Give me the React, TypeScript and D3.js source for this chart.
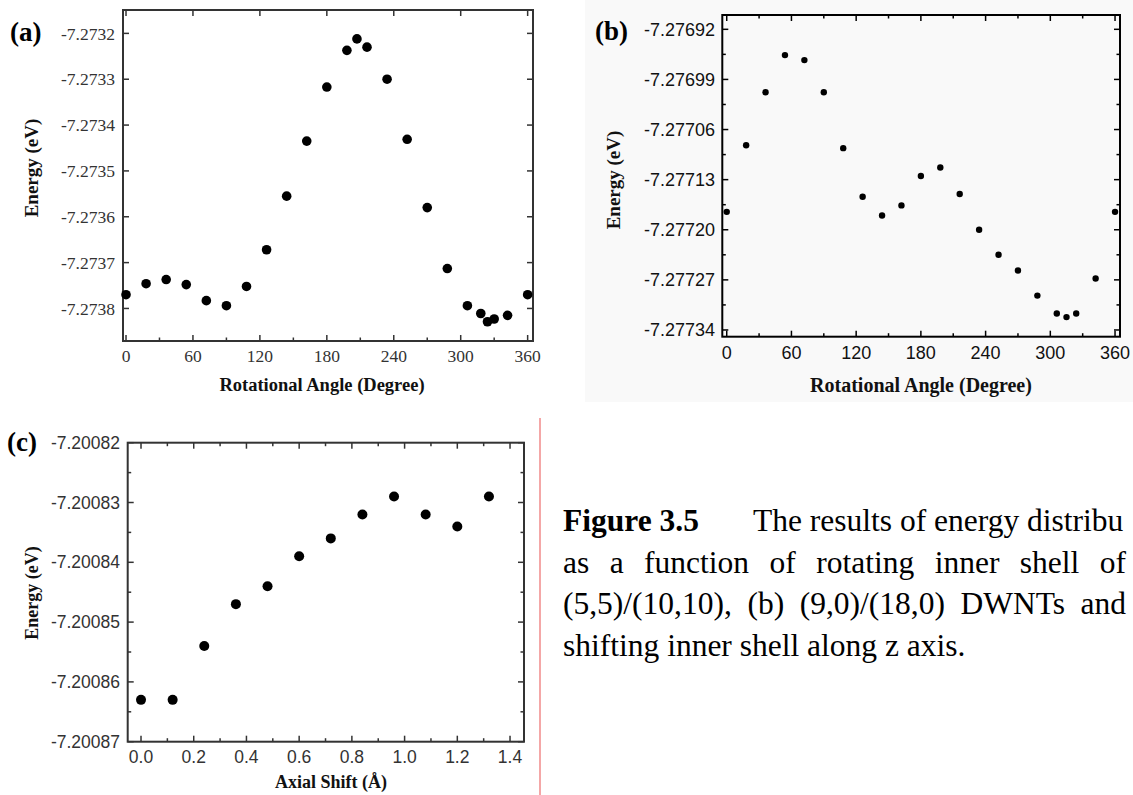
import React, { useEffect, useRef } from "react";
import * as d3 from "d3";

// (a) (5,5)/(10,10) DWNT: total energy vs rotation angle of the inner shell
const angleA = [0, 18, 36, 54, 72, 90, 108, 126, 144, 162, 180, 198, 207, 216, 234, 252, 270, 288, 306, 318, 324, 330, 342, 360];
const energyA = [
  -7.27377, -7.273746, -7.273737, -7.273748, -7.273783, -7.273794, -7.273752, -7.273672,
  -7.273555, -7.273435, -7.273317, -7.273237, -7.273212, -7.27323, -7.2733, -7.273431,
  -7.27358, -7.273713, -7.273794, -7.273811, -7.273829, -7.273823, -7.273815, -7.27377,
];

// (b) (9,0)/(18,0) DWNT: total energy vs rotation angle of the inner shell
const angleB = [0, 18, 36, 54, 72, 90, 108, 126, 144, 162, 180, 198, 216, 234, 252, 270, 288, 306, 315, 324, 342, 360];
const energyB = [
  -7.277175, -7.277082, -7.277008, -7.276956, -7.276963, -7.277008, -7.277086, -7.277154,
  -7.27718, -7.277166, -7.277125, -7.277113, -7.27715, -7.2772, -7.277235, -7.277257,
  -7.277292, -7.277317, -7.277322, -7.277317, -7.277268, -7.277175,
];

// (c) energy vs axial shift of the inner shell
const shiftC = [0, 0.12, 0.24, 0.36, 0.48, 0.6, 0.72, 0.84, 0.96, 1.08, 1.2, 1.32];
const energyC = [
  -7.200863, -7.200863, -7.200854, -7.200847, -7.200844, -7.200839,
  -7.200836, -7.200832, -7.200829, -7.200832, -7.200834, -7.200829,
];

// Tick values
const angleTicks = [0, 60, 120, 180, 240, 300, 360];
const angleMinor = [30, 90, 150, 210, 270, 330];
const energyTicksA = [-7.2738, -7.2737, -7.2736, -7.2735, -7.2734, -7.2733, -7.2732];
const energyTicksB = [-7.27734, -7.27727, -7.2772, -7.27713, -7.27706, -7.27699, -7.27692];
const shiftTicks = [0, 0.2, 0.4, 0.6, 0.8, 1.0, 1.2, 1.4];
const shiftMinor = [0.1, 0.3, 0.5, 0.7, 0.9, 1.1, 1.3];
const energyTicksC = [-7.20087, -7.20086, -7.20085, -7.20084, -7.20083, -7.20082];

const midpoints = (t: number[]) => d3.pairs(t).map(([a, b]) => (a + b) / 2);

const SERIF = "'Liberation Serif', 'Times New Roman', serif";
const SANS = "'Liberation Sans', Arial, sans-serif";

type Spec = {
  tag: string;
  tagPos: [number, number];
  frame: { left: number; right: number; top: number; bottom: number };
  xDomain: [number, number];
  yDomain: [number, number];
  xTicks: number[];
  xMinor: number[];
  xMinorTop: boolean;
  yTicks: number[];
  yMinor: number[];
  xFmt: (v: number) => string;
  yFmt: (v: number) => string;
  xs: number[];
  ys: number[];
  r: number;
  tickFont: string;
  tickSize: number;
  tickColor: string;
  xLabelBaseline: number;
  yLabelRight: number;
  xTitle: string;
  yTitle: string;
  xTitlePos: [number, number];
  yTitlePos: [number, number];
  titleSize: number;
  yTitleSize: number;
  frameColor: string;
  bg?: { x: number; y: number; w: number; h: number; fill: string };
};

function Panel({ s }: { s: Spec }) {
  const { left, right, top, bottom } = s.frame;
  const x = d3.scaleLinear().domain(s.xDomain).range([left, right]);
  const y = d3.scaleLinear().domain(s.yDomain).range([bottom, top]);
  const M = 6;
  const m = 3.5;
  const tk = { stroke: s.frameColor, strokeWidth: 1.5 };
  return (
    <g>
      {s.bg && <rect x={s.bg.x} y={s.bg.y} width={s.bg.w} height={s.bg.h} fill={s.bg.fill} />}
      {/* ticks, all pointing inward */}
      {s.xTicks.map((t) => (
        <g key={"xt" + t}>
          <line x1={x(t)} x2={x(t)} y1={bottom} y2={bottom - M} {...tk} />
          <line x1={x(t)} x2={x(t)} y1={top} y2={top + M} {...tk} />
        </g>
      ))}
      {s.xMinor.map((t) => (
        <g key={"xm" + t}>
          <line x1={x(t)} x2={x(t)} y1={bottom} y2={bottom - m} {...tk} />
          {s.xMinorTop && <line x1={x(t)} x2={x(t)} y1={top} y2={top + m} {...tk} />}
        </g>
      ))}
      {s.yTicks.map((t) => (
        <g key={"yt" + t}>
          <line x1={left} x2={left + M} y1={y(t)} y2={y(t)} {...tk} />
          <line x1={right} x2={right - M} y1={y(t)} y2={y(t)} {...tk} />
        </g>
      ))}
      {s.yMinor.map((t) => (
        <g key={"ym" + t}>
          <line x1={left} x2={left + m} y1={y(t)} y2={y(t)} {...tk} />
          <line x1={right} x2={right - m} y1={y(t)} y2={y(t)} {...tk} />
        </g>
      ))}
      <rect x={left} y={top} width={right - left} height={bottom - top} fill="none" stroke={s.frameColor} strokeWidth={2} />
      {/* tick labels */}
      {s.xTicks.map((t) => (
        <text key={"xl" + t} x={x(t)} y={s.xLabelBaseline} textAnchor="middle" fontFamily={s.tickFont} fontSize={s.tickSize} fill={s.tickColor}>
          {s.xFmt(t)}
        </text>
      ))}
      {s.yTicks.map((t) => (
        <text key={"yl" + t} x={s.yLabelRight} y={y(t)} dy="0.35em" textAnchor="end" fontFamily={s.tickFont} fontSize={s.tickSize} fill={s.tickColor}>
          {s.yFmt(t)}
        </text>
      ))}
      {/* data points */}
      {s.xs.map((v, i) => (
        <circle key={"p" + i} cx={x(v)} cy={y(s.ys[i])} r={s.r} fill="#000" />
      ))}
      {/* titles */}
      <text x={s.xTitlePos[0]} y={s.xTitlePos[1]} textAnchor="middle" fontFamily={SERIF} fontWeight="bold" fontSize={s.titleSize} fill="#111">
        {s.xTitle}
      </text>
      <text
        transform={`translate(${s.yTitlePos[0]},${s.yTitlePos[1]}) rotate(-90)`}
        textAnchor="middle"
        dy="0.35em"
        fontFamily={SERIF}
        fontWeight="bold"
        fontSize={s.yTitleSize}
        fill="#111"
      >
        {s.yTitle}
      </text>
      <text x={s.tagPos[0]} y={s.tagPos[1]} fontFamily={SERIF} fontWeight="bold" fontSize={27} fill="#000">
        {s.tag}
      </text>
    </g>
  );
}

const panelA: Spec = {
  tag: "(a)",
  tagPos: [10, 41],
  frame: { left: 123, right: 533, top: 10, bottom: 341 },
  xDomain: [-2.7, 364.8],
  yDomain: [-7.273871, -7.273149],
  xTicks: angleTicks,
  xMinor: angleMinor,
  xMinorTop: false,
  yTicks: energyTicksA,
  yMinor: [],
  xFmt: (v) => String(v),
  yFmt: (v) => v.toFixed(4),
  xs: angleA,
  ys: energyA,
  r: 4.8,
  tickFont: SERIF,
  tickSize: 17.5,
  tickColor: "#333",
  xLabelBaseline: 362,
  yLabelRight: 115,
  xTitle: "Rotational Angle (Degree)",
  yTitle: "Energy (eV)",
  xTitlePos: [322, 391],
  yTitlePos: [31, 168],
  titleSize: 18.5,
  yTitleSize: 19,
  frameColor: "#333",
};

const panelB: Spec = {
  tag: "(b)",
  tagPos: [595, 40],
  frame: { left: 722.3, right: 1120, top: 15, bottom: 336.7 },
  xDomain: [-4.1, 364.6],
  yDomain: [-7.2773494, -7.2769],
  xTicks: angleTicks,
  xMinor: angleMinor,
  xMinorTop: true,
  yTicks: energyTicksB,
  yMinor: midpoints(energyTicksB),
  xFmt: (v) => String(v),
  yFmt: (v) => v.toFixed(5),
  xs: angleB,
  ys: energyB,
  r: 3.2,
  tickFont: SANS,
  tickSize: 18,
  tickColor: "#111",
  xLabelBaseline: 359,
  yLabelRight: 715,
  xTitle: "Rotational Angle (Degree)",
  yTitle: "Energy (eV)",
  xTitlePos: [921, 392],
  yTitlePos: [613, 180],
  titleSize: 20,
  yTitleSize: 19,
  frameColor: "#000",
  bg: { x: 585, y: 0, w: 548, h: 402, fill: "#f9f9f9" },
};

const panelC: Spec = {
  tag: "(c)",
  tagPos: [7, 451],
  frame: { left: 127.7, right: 524, top: 442.7, bottom: 741.7 },
  xDomain: [-0.0505, 1.453],
  yDomain: [-7.20087, -7.20082],
  xTicks: shiftTicks,
  xMinor: shiftMinor,
  xMinorTop: true,
  yTicks: energyTicksC,
  yMinor: midpoints(energyTicksC),
  xFmt: (v) => v.toFixed(1),
  yFmt: (v) => v.toFixed(5),
  xs: shiftC,
  ys: energyC,
  r: 5,
  tickFont: SANS,
  tickSize: 17.5,
  tickColor: "#333",
  xLabelBaseline: 763,
  yLabelRight: 120,
  xTitle: "Axial Shift (Å)",
  yTitle: "Energy (eV)",
  xTitlePos: [331, 788],
  yTitlePos: [32, 593],
  titleSize: 18,
  yTitleSize: 18,
  frameColor: "#333",
};

// Caption lines; justified lines carry the right edge they are spread to
const captionHead = "Figure 3.5";
const captionLines = [
  { text: "The results of energy distribu", x: 753, end: 0 },
  { text: "as a function of rotating inner shell of", x: 563, end: 1126 },
  { text: "(5,5)/(10,10), (b) (9,0)/(18,0) DWNTs and", x: 563, end: 1126 },
  { text: "shifting inner shell along z axis.", x: 563, end: 0 },
];

function Caption() {
  const ref = useRef<SVGGElement>(null);
  useEffect(() => {
    if (!ref.current) return;
    d3.select(ref.current)
      .selectAll<SVGTextElement, unknown>("text.just")
      .each(function () {
        const end = Number(this.getAttribute("data-end"));
        const x0 = Number(this.getAttribute("x"));
        const words = (this.textContent || "").trim().split(/\s+/).length;
        this.style.wordSpacing = "0px";
        const natural = this.getComputedTextLength();
        if (end > 0 && words > 1) {
          this.style.wordSpacing = `${(end - x0 - natural) / (words - 1)}px`;
        }
      });
  }, []);
  const size = 31.5;
  const lead = 41.5;
  const base0 = 531;
  return (
    <g ref={ref} fontFamily={SERIF} fontSize={size} fill="#000">
      <text x={563} y={base0} fontWeight="bold">
        {captionHead}
      </text>
      {captionLines.map((l, i) => (
        <text key={i} className="just" data-end={l.end} x={l.x} y={base0 + i * lead}>
          {l.text}
        </text>
      ))}
    </g>
  );
}

export default function App() {
  return (
    <svg width={1133} height={795} style={{ display: "block", position: "absolute", left: 0, top: 0 }} xmlns="http://www.w3.org/2000/svg">
      <rect x={0} y={0} width={1133} height={795} fill="#fff" />
      <Panel s={panelA} />
      <Panel s={panelB} />
      <Panel s={panelC} />
      <line x1={540} x2={540} y1={418} y2={795} stroke="#f08a8a" strokeWidth={1.5} />
      <Caption />
    </svg>
  );
}
